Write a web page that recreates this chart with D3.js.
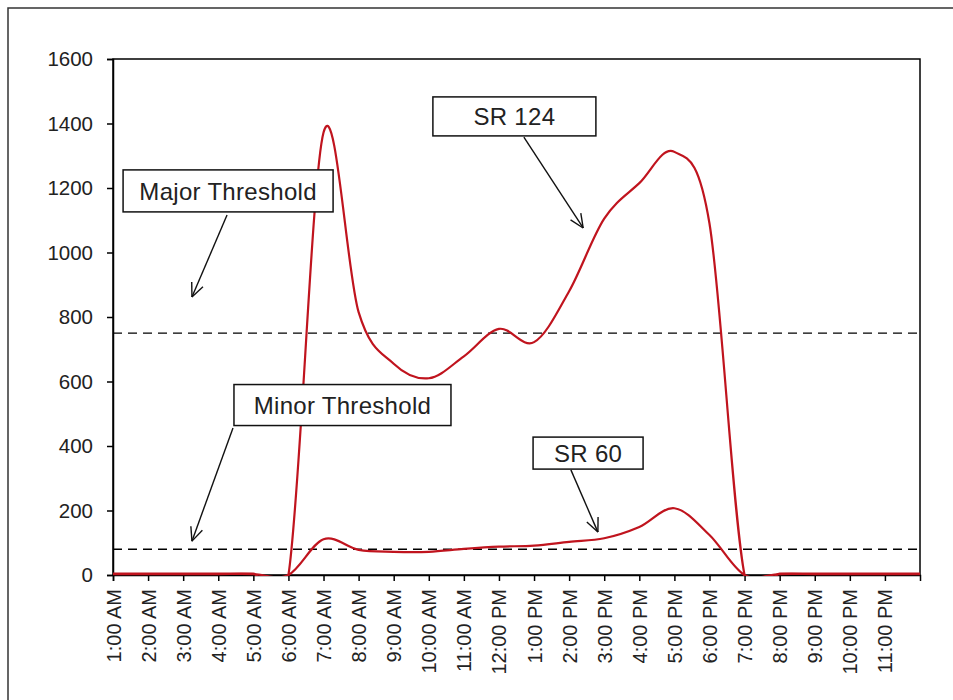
<!DOCTYPE html>
<html>
<head>
<meta charset="utf-8">
<script src="https://cdn.jsdelivr.net/npm/d3@7"></script>
<style>
  html, body { margin: 0; padding: 0; background: #fff; }
  svg { display: block; font-family: "Liberation Sans", Arial, sans-serif; }
</style>
</head>
<body>
<svg id="chart" width="953" height="700"></svg>
<script>
// ---- data ----
const hours = ["1:00 AM","2:00 AM","3:00 AM","4:00 AM","5:00 AM","6:00 AM","7:00 AM","8:00 AM",
  "9:00 AM","10:00 AM","11:00 AM","12:00 PM","1:00 PM","2:00 PM","3:00 PM","4:00 PM","5:00 PM",
  "6:00 PM","7:00 PM","8:00 PM","9:00 PM","10:00 PM","11:00 PM","12:00 AM"];
const tickLabels = hours.slice(0, 23);
const sr124 = [4,4,4,4,4,0,1372,815,655,610,678,763,722,880,1105,1215,1312,1090,0,4,4,4,4,4];
const sr60  = [3,3,3,3,3,0,111,78,72,72,81,88,91,103,114,149,207,124,0,3,3,3,3,3];
const yTicks = [0,200,400,600,800,1000,1200,1400,1600];
const majorThreshold = 750;
const minorThreshold = 80;
// annotations: box centre and arrow tail/tip in data units (hour index, value)
const annotations = [
  {text: "Major Threshold", cx: 3.28, cy: 1191, tail: [3.25, 1116], tip: [2.25, 862]},
  {text: "SR 124",          cx: 11.44, cy: 1422, tail: [11.71, 1358], tip: [13.4, 1076]},
  {text: "Minor Threshold", cx: 6.54, cy: 527,  tail: [3.42, 456],  tip: [2.25, 105]},
  {text: "SR 60",           cx: 13.54, cy: 378,  tail: [13.05, 326], tip: [13.82, 133]}
];
const boxSizes = {"Major Threshold": [210, 42], "SR 124": [163, 39], "Minor Threshold": [217, 41], "SR 60": [110, 32]};

// ---- layout ----
const svg = d3.select("#chart");
const L = 113, R = 920, T = 59, B = 575;
const x = d3.scaleLinear().domain([0, hours.length - 1]).range([L, R]);
const y = d3.scaleLinear().domain([0, 1600]).range([B, T]);
const lineColor = "#c0141e";
const font = "'Liberation Sans', Arial, sans-serif";

// outer frame
svg.append("rect").attr("x", 8).attr("y", 8).attr("width", 970).attr("height", 720)
  .attr("fill", "none").attr("stroke", "#333").attr("stroke-width", 1.5);

// clip
svg.append("defs").append("clipPath").attr("id", "plotclip")
  .append("rect").attr("x", L).attr("y", T).attr("width", R - L).attr("height", B - T + 1);

// threshold lines
[majorThreshold, minorThreshold].forEach(v => {
  svg.append("line").attr("x1", L).attr("x2", R).attr("y1", y(v)).attr("y2", y(v))
    .attr("stroke", "#000").attr("stroke-width", 1.4).attr("stroke-dasharray", "9,6");
});

// plot frame
svg.append("rect").attr("x", L).attr("y", T).attr("width", R - L).attr("height", B - T)
  .attr("fill", "none").attr("stroke", "#000").attr("stroke-width", 1.5);

// y axis
const yAxis = d3.axisLeft(y).tickValues(yTicks).tickSize(6).tickPadding(14).tickFormat(d3.format("d"));
const ya = svg.append("g").attr("transform", `translate(${L},0)`).call(yAxis);
ya.select(".domain").attr("stroke", "#000").attr("stroke-width", 1.5);
ya.selectAll(".tick line").attr("stroke", "#000").attr("stroke-width", 1.5);
ya.selectAll(".tick text").attr("font-size", 20.5).attr("fill", "#222").attr("font-family", font);

// x axis
const xAxis = d3.axisBottom(x).tickValues(d3.range(tickLabels.length)).tickSize(6)
  .tickFormat(i => tickLabels[i]);
const xa = svg.append("g").attr("transform", `translate(0,${B})`).call(xAxis);
xa.select(".domain").attr("stroke", "#000").attr("stroke-width", 1.5);
xa.selectAll(".tick line").attr("stroke", "#000").attr("stroke-width", 1.5);
xa.selectAll(".tick text").attr("font-size", 20).attr("fill", "#222").attr("font-family", font)
  .attr("text-anchor", "end").attr("transform", "rotate(-90)")
  .attr("x", -14).attr("y", 0).attr("dy", "0.35em");

// series (drawn over the axis line, as in the reference)
const line = d3.line().x((d, i) => x(i)).y(d => y(d)).curve(d3.curveCardinal.tension(0));
const g = svg.append("g").attr("clip-path", "url(#plotclip)");
[sr124, sr60].forEach(s => {
  g.append("path").datum(s).attr("d", line).attr("fill", "none")
    .attr("stroke", lineColor).attr("stroke-width", 2.2);
});

// annotations
annotations.forEach(a => {
  const [w, h] = boxSizes[a.text];
  const cx = x(a.cx), cy = y(a.cy);
  svg.append("rect").attr("x", cx - w / 2).attr("y", cy - h / 2).attr("width", w).attr("height", h)
    .attr("fill", "#fff").attr("stroke", "#111").attr("stroke-width", 1.5);
  svg.append("text").attr("x", cx).attr("y", cy).attr("dy", "0.36em").attr("text-anchor", "middle")
    .attr("font-size", 24).attr("letter-spacing", 0.3).attr("fill", "#222").text(a.text);
  const x1 = x(a.tail[0]), y1 = y(a.tail[1]), x2 = x(a.tip[0]), y2 = y(a.tip[1]);
  svg.append("line").attr("x1", x1).attr("y1", y1).attr("x2", x2).attr("y2", y2)
    .attr("stroke", "#111").attr("stroke-width", 1.4);
  const ang = Math.atan2(y1 - y2, x1 - x2), len = 15, spread = 0.42;
  [ang - spread, ang + spread].forEach(t => {
    svg.append("line").attr("x1", x2).attr("y1", y2)
      .attr("x2", x2 + len * Math.cos(t)).attr("y2", y2 + len * Math.sin(t))
      .attr("stroke", "#111").attr("stroke-width", 1.4);
  });
});
</script>
</body>
</html>
